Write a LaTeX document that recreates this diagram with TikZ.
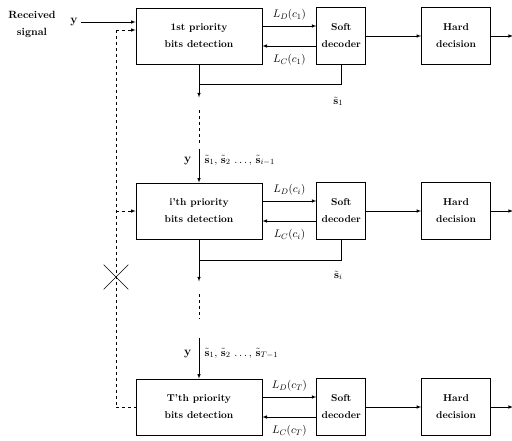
\documentclass[tikz,border=0pt]{standalone}
\usepackage{amsmath, amssymb}
\usetikzlibrary{arrows.meta, positioning, shapes.misc, calc}

\begin{document}
\begin{tikzpicture}[
  x=1pt, y=-1pt,
  every node/.style={font=\fontsize{11}{13}\selectfont},
  det/.style={rectangle, draw, thick, align=center, font=\fontsize{10}{17}\selectfont\bfseries, minimum width=126pt, minimum height=56pt},
  soft/.style={rectangle, draw, thick, align=center, font=\fontsize{10}{17}\selectfont\bfseries, minimum width=49pt, minimum height=57pt},
  hard/.style={rectangle, draw, thick, align=center, font=\fontsize{10}{17}\selectfont\bfseries, minimum width=69pt, minimum height=57pt},
  link/.style={semithick, -latex},
  tap/.style={semithick, dashed}
]
\useasboundingbox (0,0) rectangle (512,440);

% Input
\node[font=\fontsize{10.5}{17}\selectfont\bfseries, align=center] (recv) at (32,24) {Received\\signal};
\node[font=\fontsize{12}{14}\selectfont] (yin) at (74,22) {$\mathbf{y}$};

% Stages
\node[det] (det1) at (199,36) {1st priority\\bits detection};
\node[soft, right=54pt of det1] (soft1) {Soft\\decoder};
\node[hard, right=55pt of soft1] (hard1) {Hard\\decision};

\node[det] (det2) at (199,211) {i'th priority\\bits detection};
\node[soft, right=54pt of det2] (soft2) {Soft\\decoder};
\node[hard, right=55pt of soft2] (hard2) {Hard\\decision};

\node[det] (det3) at (199,407) {T'th priority\\bits detection};
\node[soft, right=54pt of det3] (soft3) {Soft\\decoder};
\node[hard, right=55pt of soft3] (hard3) {Hard\\decision};

\draw[link] (yin) -- (yin -| det1.west);

% Detector <-> decoder <-> decision
\foreach \r/\c in {1/1, 2/i, 3/T} {
  \path (hard\r.east) ++(22,0) coordinate (out\r);
  \draw[link] ([yshift=10pt]det\r.east) -- ([yshift=10pt]det\r.east -| soft\r.west)
    node[midway, above=2pt] {$L_D(c_\c)$};
  \draw[link] ([yshift=-10pt]soft\r.west) -- ([yshift=-10pt]soft\r.west -| det\r.east)
    node[midway, below=5pt] {$L_C(c_\c)$};
  \draw[link] (soft\r) -- (hard\r);
  \draw[link] (hard\r) -- (out\r);
}

% Decisions passed down
\path (det1.south) ++(0,20) coordinate (j1) ++(0,13) coordinate (o1);
\path (det2.south) ++(0,21) coordinate (j2) ++(0,21) coordinate (o2);
\draw[semithick] (soft1.south) |- (j1);
\draw[semithick] (soft2.south) |- (j2);
\draw[link] (det1.south) -- (o1);
\draw[link] (det2.south) -- (o2);
\node (s1) at ($(soft1.south |- j1)+(-3,17)$) {$\tilde{\mathbf{s}}_1$};
\node (si) at ($(soft2.south |- j2)+(-3,15)$) {$\tilde{\mathbf{s}}_i$};

\path (o1) ++(0,13) coordinate (g1a) ++(0,34) coordinate (g1b);
\path (o2) ++(0,13) coordinate (g2a) ++(0,25) coordinate (g2b);
\draw[tap] (g1a) -- (g1b);
\draw[tap] (g2a) -- (g2b);
\path (det2.north) ++(0,-34) coordinate (in2);
\path (det3.north) ++(0,-41) coordinate (in3);
\draw[link] (in2) -- (det2.north);
\draw[link] (in3) -- (det3.north);

\node[left=4pt, font=\fontsize{12}{14}\selectfont] (y2) at ($(in2)+(0,12)$) {$\mathbf{y}$};
\node[right=2pt] (prev2) at ($(in2)+(0,12)$) {$\tilde{\mathbf{s}}_1,\,\tilde{\mathbf{s}}_2\,\ldots,\,\tilde{\mathbf{s}}_{i-1}$};
\node[left=4pt, font=\fontsize{12}{14}\selectfont] (y3) at ($(in3)+(0,16)$) {$\mathbf{y}$};
\node[right=2pt] (prev3) at ($(in3)+(0,16)$) {$\tilde{\mathbf{s}}_1,\,\tilde{\mathbf{s}}_2\,\ldots,\,\tilde{\mathbf{s}}_{T-1}$};

% Received signal fed to every stage
\coordinate (d1) at (116,30);
\draw[tap, -latex] (d1) -- (d1 -| det1.west);
\draw[tap] (d1) -- (d1 |- det3.west);
\draw[tap, -latex] (d1 |- det2.west) -- (det2.west);
\draw[tap] (d1 |- det3.west) -- (det3.west);
\node[cross out, draw, semithick, minimum size=24pt, inner sep=0pt] (cut) at (116,277) {};

\end{tikzpicture}
\end{document}
